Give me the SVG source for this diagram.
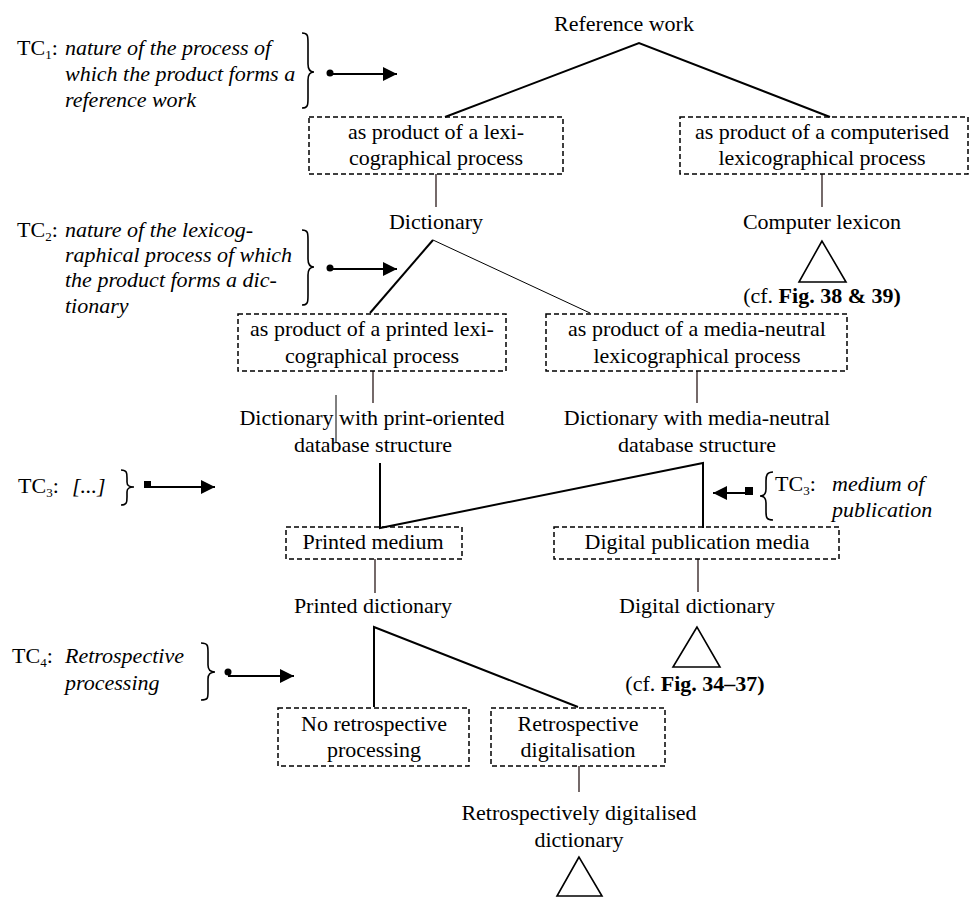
<svg xmlns="http://www.w3.org/2000/svg" width="970" height="897" viewBox="0 0 970 897">
<style>
text{font-family:"Liberation Serif","Times New Roman",serif;font-size:22px;fill:#000}
.c{text-anchor:middle}
.i{font-style:italic}
.b{font-weight:bold}
.sub{font-size:13px}
.box{fill:none;stroke:#000;stroke-width:1.5;stroke-dasharray:5,3}
.ln{fill:none;stroke:#000;stroke-width:2}
.thin{fill:none;stroke:#000;stroke-width:1}
.v{fill:none;stroke:#2a1a1a;stroke-width:1.3}
.br{fill:none;stroke:#000;stroke-width:1.6}
.arr{fill:none;stroke:#000;stroke-width:2;marker-end:url(#ah)}
.tri{fill:none;stroke:#000;stroke-width:1.6}
</style>
<defs>
<marker id="ah" viewBox="0 0 10 10" refX="10" refY="5" markerWidth="14" markerHeight="14" markerUnits="userSpaceOnUse" orient="auto"><path d="M0,0 L10,5 L0,10 z" fill="#000"/></marker>
</defs>
<rect width="970" height="897" fill="#fff"/>

<g id="connectors">
<polyline class="ln" points="445,117 639,43 830,117"/>
<line class="v" x1="436" y1="174" x2="436" y2="207"/>
<line class="v" x1="822" y1="174" x2="822" y2="207"/>
<polyline class="ln" points="370,313 433,240"/>
<line class="thin" x1="433" y1="240" x2="590" y2="313"/>
<line class="v" x1="373" y1="371" x2="373" y2="403"/>
<line class="v" x1="697" y1="371" x2="697" y2="403"/>
<line class="thin" x1="336" y1="395" x2="336" y2="442"/>
<polyline class="ln" points="380,463 380,528 703,463 703,528"/>
<line class="v" x1="375" y1="559" x2="375" y2="593"/>
<line class="v" x1="698" y1="559" x2="698" y2="592"/>
<polyline class="ln" points="374,707 374,627 578,707"/>
<line class="v" x1="579" y1="766" x2="579" y2="792"/>
</g>

<g id="root"><text class="c" x="624" y="31">Reference work</text></g>

<g id="box-lexi">
<rect class="box" x="309" y="117" width="254" height="57"/>
<text class="c" x="436" y="139">as product of a lexi-</text>
<text class="c" x="436" y="165">cographical process</text>
</g>
<g id="box-computerised">
<rect class="box" x="680" y="117" width="288" height="57"/>
<text class="c" x="822" y="139">as product of a computerised</text>
<text class="c" x="822" y="165">lexicographical process</text>
</g>

<g id="dictionary"><text class="c" x="436" y="229">Dictionary</text></g>
<g id="computer-lexicon">
<text class="c" x="822" y="229">Computer lexicon</text>
<polygon class="tri" points="822,241 799,282 846,282"/>
<text class="c" x="822" y="303">(cf. <tspan class="b">Fig. 38 &amp; 39)</tspan></text>
</g>

<g id="box-printed">
<rect class="box" x="238" y="314" width="268" height="57"/>
<text class="c" x="372" y="336">as product of a printed lexi-</text>
<text class="c" x="372" y="363">cographical process</text>
</g>
<g id="box-media-neutral">
<rect class="box" x="546" y="314" width="301" height="57"/>
<text class="c" x="697" y="336">as product of a media-neutral</text>
<text class="c" x="697" y="363">lexicographical process</text>
</g>

<g id="dict-print-oriented">
<text class="c" x="372" y="425">Dictionary with print-oriented</text>
<text class="c" x="373" y="452">database structure</text>
</g>
<g id="dict-media-neutral">
<text class="c" x="697" y="425">Dictionary with media-neutral</text>
<text class="c" x="697" y="452">database structure</text>
</g>

<g id="box-printed-medium">
<rect class="box" x="286" y="527" width="176" height="32"/>
<text class="c" x="373" y="549">Printed medium</text>
</g>
<g id="box-digital-media">
<rect class="box" x="554" y="527" width="285" height="32"/>
<text class="c" x="697" y="549">Digital publication media</text>
</g>

<g id="printed-dictionary"><text class="c" x="373" y="613">Printed dictionary</text></g>
<g id="digital-dictionary">
<text class="c" x="697" y="613">Digital dictionary</text>
<polygon class="tri" points="697,627 673,667 720,667"/>
<text class="c" x="695" y="691">(cf. <tspan class="b">Fig. 34–37)</tspan></text>
</g>

<g id="box-no-retro">
<rect class="box" x="278" y="708" width="191" height="58"/>
<text class="c" x="374" y="731">No retrospective</text>
<text class="c" x="374" y="757">processing</text>
</g>
<g id="box-retro-digi">
<rect class="box" x="491" y="708" width="174" height="58"/>
<text class="c" x="578" y="731">Retrospective</text>
<text class="c" x="578" y="757">digitalisation</text>
</g>
<g id="retro-dictionary">
<text class="c" x="579" y="820">Retrospectively digitalised</text>
<text class="c" x="579" y="847">dictionary</text>
<polygon class="tri" points="579,857 557,896 602,896"/>
</g>

<g id="tc1">
<text x="17" y="55">TC<tspan class="sub" dy="4">1</tspan><tspan dy="-4">:</tspan></text>
<text class="i" x="65" y="55">nature of the process of</text>
<text class="i" x="65" y="81">which the product forms a</text>
<text class="i" x="65" y="107">reference work</text>
<path class="br" d="M302,33 C308,33 308,36 308,43 L308,64 C308,70 310,72 314,72 C310,72 308,74 308,80 L308,98 C308,105 308,108 302,108"/>
<circle cx="330" cy="73" r="3.5"/>
<line class="arr" x1="330" y1="74" x2="397" y2="74"/>
</g>

<g id="tc2">
<text x="17" y="237">TC<tspan class="sub" dy="4">2</tspan><tspan dy="-4">:</tspan></text>
<text class="i" x="65" y="237">nature of the lexicog-</text>
<text class="i" x="65" y="262">raphical process of which</text>
<text class="i" x="65" y="287">the product forms a dic-</text>
<text class="i" x="65" y="313">tionary</text>
<path class="br" d="M302,230 C308,230 308,233 308,240 L308,259 C308,265 310,267 314,267 C310,267 308,269 308,275 L308,295 C308,302 308,305 302,305"/>
<circle cx="330" cy="268" r="3.5"/>
<line class="arr" x1="330" y1="269" x2="397" y2="269"/>
</g>

<g id="tc3-left">
<text x="18" y="493">TC<tspan class="sub" dy="4">3</tspan><tspan dy="-4">:</tspan></text>
<text class="i" x="72" y="493">[...]</text>
<path class="br" d="M121,470 C127,470 127,473 127,478 L127,482 C127,486 129,487 134,487 C129,487 127,488 127,492 L127,497 C127,502 127,505 121,505"/>
<rect x="144" y="481" width="7" height="7"/>
<line class="arr" x1="148" y1="487" x2="215" y2="487"/>
</g>

<g id="tc3-right">
<rect x="745" y="487" width="8" height="8"/>
<line class="arr" x1="749" y1="493" x2="713" y2="493"/>
<path class="br" d="M773,472 C767,472 766,475 766,481 L766,489 C766,494 764,496 760,496 C764,496 766,498 766,503 L766,512 C766,518 767,520 773,520"/>
<text x="775" y="491">TC<tspan class="sub" dy="4">3</tspan><tspan dy="-4">:</tspan></text>
<text class="i" x="832" y="491">medium of</text>
<text class="i" x="832" y="517">publication</text>
</g>

<g id="tc4">
<text x="12" y="663">TC<tspan class="sub" dy="4">4</tspan><tspan dy="-4">:</tspan></text>
<text class="i" x="65" y="663">Retrospective</text>
<text class="i" x="65" y="690">processing</text>
<path class="br" d="M201,643 C208,643 208,646 208,652 L208,665 C208,670 210,672 215,672 C210,672 208,674 208,679 L208,692 C208,698 208,700 201,700"/>
<circle cx="228" cy="672" r="3.5"/>
<line class="arr" x1="228" y1="676" x2="294" y2="676"/>
</g>
</svg>
